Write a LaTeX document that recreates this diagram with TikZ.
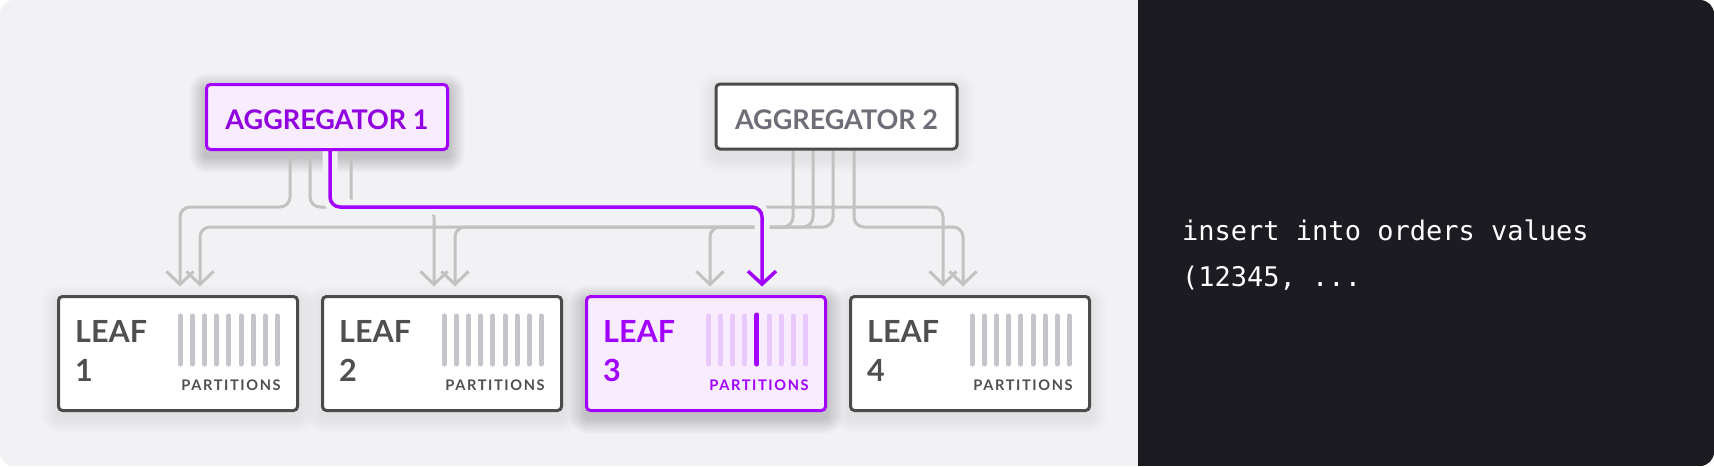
\documentclass[tikz,border=0pt]{standalone}
\usepackage{fontspec}
\setmainfont{Lato}
\newfontfamily\codefont{DejaVu Sans Mono}
\usetikzlibrary{arrows.meta}
\definecolor{panel}{HTML}{F2F2F4}
\definecolor{darkpanel}{HTML}{1C1B21}
\definecolor{wirecol}{HTML}{C2C2C2}
\definecolor{purp}{HTML}{A200FF}
\definecolor{purptext}{HTML}{9000E0}
\definecolor{purpfill}{HTML}{F8ECFE}
\definecolor{purpbar}{HTML}{E9C9FC}
\definecolor{boxline}{HTML}{4B4B4B}
\definecolor{boxtext}{HTML}{4F4F4F}
\definecolor{barcol}{HTML}{C4C4CB}
\definecolor{aggtext}{HTML}{6E6D78}
\pgfdeclarelayer{backpanel}
\pgfdeclarelayer{shadowlayer}
\pgfdeclarelayer{wires}
\pgfsetlayers{backpanel,shadowlayer,wires,main}
\newcommand\softshadow[2]{%
  \begin{pgfonlayer}{shadowlayer}
    \foreach \r in {1,...,16}
      \fill[black, opacity=#2, rounded corners=\r pt+3pt]
        ([xshift=-\r pt, yshift=\r pt-6pt]#1.north west) rectangle ([xshift=\r pt, yshift=-\r pt-6pt]#1.south east);
  \end{pgfonlayer}}
\begin{document}
\begin{tikzpicture}[x=1pt,y=-1pt,
  aggbox/.style={draw, line width=3pt, rounded corners=4pt, minimum width=241pt, minimum height=65pt,
    inner sep=0pt, text height=25.5pt, text depth=0pt, font=\fontsize{27}{27}\selectfont\bfseries},
  leafbox/.style={draw=boxline, fill=white, line width=3pt, rounded corners=4pt,
    minimum width=239pt, minimum height=114pt, inner sep=0pt},
  wire/.style={draw=wirecol, line width=3pt, rounded corners=10pt, -{Straight Barb[length=13pt,width=27pt]}},
  purpwire/.style={draw=purp, line width=3.5pt, rounded corners=10pt, -{Straight Barb[length=13pt,width=28pt]}},
  halo/.style={draw=panel, line width=15pt, rounded corners=10pt},
  leaflabel/.style={anchor=base west, inner sep=0pt, font=\fontsize{30.5}{30}\selectfont\bfseries},
  partlabel/.style={anchor=base, inner sep=0pt, font=\fontsize{14.6}{14}\selectfont\bfseries\addfontfeature{LetterSpace=11}},
  partbar/.style={line width=5pt, line cap=round},
  code/.style={anchor=base west, inner sep=0pt, text=white, font=\codefont\fontsize{27}{27}\selectfont}
]
\useasboundingbox (0,0) rectangle (1714,466);
\begin{pgfonlayer}{backpanel}
  \fill[white] (0,0) rectangle (1714,466);
  \begin{scope}
    \clip[rounded corners=14pt] (0,0) rectangle (1714,466);
    \fill[panel] (0,0) rectangle (1138,466);
    \fill[darkpanel] (1138,0) rectangle (1714,466);
  \end{scope}
\end{pgfonlayer}

% aggregators
\node[aggbox, draw=purp, fill=purpfill, text=purptext] (agg1) at (327,117) {AGGREGATOR 1};
\node[aggbox, draw=boxline, fill=white, text=aggtext] (agg2) at (836.5,116.5) {AGGREGATOR 2};
\softshadow{agg1}{0.011}
\softshadow{agg2}{0.005}

% leaves
\foreach \i/\cx in {1/178,2/442,4/970} {
  \node[leafbox] (leaf\i) at (\cx,353.5) {};
  \softshadow{leaf\i}{0.005}
  \node[leaflabel, text=boxtext] (leaf\i-name) at ([xshift=18pt,yshift=-47.5pt]leaf\i.north west) {LEAF};
  \node[leaflabel, text=boxtext] (leaf\i-num) at ([xshift=18pt,yshift=-86.5pt]leaf\i.north west) {\i};
  \foreach \k in {0,...,8}
    \draw[partbar, barcol] ([xshift=123.5pt+12.1pt*\k, yshift=-21pt]leaf\i.north west) -- ++(0,48);
  \node[partlabel, text=boxtext] (leaf\i-part) at ([xshift=174pt,yshift=-95pt]leaf\i.north west) {PARTITIONS};
}
\node[leafbox, draw=purp, fill=purpfill] (leaf3) at (706,353.5) {};
\softshadow{leaf3}{0.01}
\node[leaflabel, text=purp] (leaf3-name) at ([xshift=18pt,yshift=-47.5pt]leaf3.north west) {LEAF};
\node[leaflabel, text=purp] (leaf3-num) at ([xshift=18pt,yshift=-86.5pt]leaf3.north west) {3};
\foreach \k in {0,1,2,3,5,6,7,8}
  \draw[partbar, purpbar] ([xshift=123.5pt+12.1pt*\k, yshift=-21pt]leaf3.north west) -- ++(0,48);
\draw[partbar, purp] ([xshift=123.5pt+12.1pt*4, yshift=-20pt]leaf3.north west) -- ++(0,49);
\node[partlabel, text=purp] (leaf3-part) at ([xshift=174pt,yshift=-95pt]leaf3.north west) {PARTITIONS};

% code panel
\node[code] (code1) at (1182,240) {insert into orders values};
\node[code] (code2) at (1182,286) {(12345, ...};

% connectors
\begin{pgfonlayer}{wires}
  \coordinate (busA) at (0,207);
  \coordinate (busB) at (0,227);
  \coordinate (a1p1) at ([xshift=-37pt]agg1.south);
  \coordinate (a1p2) at ([xshift=-17pt]agg1.south);
  \coordinate (a1p3) at ([xshift=3pt]agg1.south);
  \coordinate (a1p4) at ([xshift=24pt]agg1.south);
  \coordinate (a2p1) at ([xshift=-43.5pt]agg2.south);
  \coordinate (a2p2) at ([xshift=-23.5pt]agg2.south);
  \coordinate (a2p3) at ([xshift=-3.5pt]agg2.south);
  \coordinate (a2p4) at ([xshift=17.5pt]agg2.south);
  \coordinate (l1a) at ([xshift=2pt,yshift=8.5pt]leaf1.north);
  \coordinate (l1b) at ([xshift=22pt,yshift=8.5pt]leaf1.north);
  \coordinate (l2a) at ([xshift=-8pt,yshift=8.5pt]leaf2.north);
  \coordinate (l2b) at ([xshift=13pt,yshift=8.5pt]leaf2.north);
  \coordinate (l3a) at ([xshift=4pt,yshift=8.5pt]leaf3.north);
  \coordinate (l3b) at ([xshift=56pt,yshift=8.5pt]leaf3.north);
  \coordinate (l4a) at ([xshift=-27pt,yshift=8.5pt]leaf4.north);
  \coordinate (l4b) at ([xshift=-7pt,yshift=8.5pt]leaf4.north);
  \draw[wire] (a1p1) |- (l1a |- busA) -- (l1a);
  \draw[wire] (a1p2) |- (l4a |- busA) -- (l4a);
  \draw[wire] (a1p4) |- (l2a |- busA) -- (l2a);
  \draw[wire] (a2p1) |- (l3a |- busB) -- (l3a);
  \draw[wire] (a2p2) |- (l2b |- busB) -- (l2b);
  \draw[wire] (a2p3) |- (l1b |- busB) -- (l1b);
  \draw[wire] (a2p4) |- (l4b |- busB) -- (l4b);
  \draw[halo] (a1p3) |- (l3b |- busA) -- ([yshift=8pt]l3b);
  \draw[purpwire] (a1p3) |- (l3b |- busA) -- (l3b);
\end{pgfonlayer}
\end{tikzpicture}
\end{document}
